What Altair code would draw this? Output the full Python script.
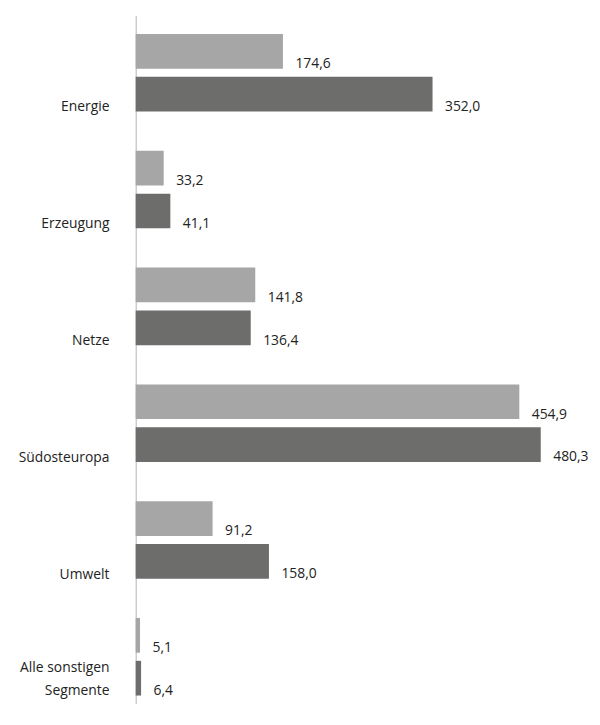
import altair as alt
import pandas as pd

categories = ["Energie", "Erzeugung", "Netze", "Südosteuropa", "Umwelt", "Alle sonstigen\nSegmente"]
series_names = ["Vorjahr", "Berichtsjahr"]
values_light = [174.6, 33.2, 141.8, 454.9, 91.2, 5.1]
values_dark = [352.0, 41.1, 136.4, 480.3, 158.0, 6.4]
colors = ["#a6a6a6", "#6d6d6b"]

rows = []
for c, a, b in zip(categories, values_light, values_dark):
    for s, v in zip(series_names, (a, b)):
        rows.append({"category": c, "series": s, "value": v,
                     "label": f"{v:.1f}".replace(".", ",")})
df = pd.DataFrame(rows)

base = alt.Chart(df).encode(
    y=alt.Y(
        "category:N",
        sort=categories,
        scale=alt.Scale(paddingInner=0.336, paddingOuter=0.113, align=0.70),
        axis=alt.Axis(
            title=None, ticks=False, domainColor="#b3b3b3", domainWidth=1,
            labelPadding=27, labelFontSize=14, labelFont="Open Sans",
            labelColor="#222222", labelBaseline="alphabetic",
            labelOffset={"condition": {"test": "indexof(datum.value, '\\n') >= 0", "value": 15}, "value": 39},
            labelLineHeight=24,
            labelExpr="split(datum.label, '\\n')", labelLimit=0,
        ),
    ),
    yOffset=alt.YOffset("series:N", sort=series_names,
                        scale=alt.Scale(paddingInner=0.19, paddingOuter=0)),
)

bars = base.mark_bar().encode(
    x=alt.X("value:Q", scale=alt.Scale(domain=[0, 500], nice=False), axis=None),
    color=alt.Color("series:N", scale=alt.Scale(domain=series_names, range=colors), legend=None),
)

text = base.mark_text(
    align="left", baseline="alphabetic", dx=12.6, dy=17,
    fontSize=14, font="Open Sans", color="#222222",
).encode(
    x=alt.X("value:Q"),
    text="label:N",
)

chart = (
    alt.layer(bars, text)
    .properties(
        width=426, height=695,
        padding={"left": 129, "top": 4, "right": 35, "bottom": 0},
        autosize=alt.AutoSizeParams(type="none"),
    )
    .configure_view(stroke=None)
)

chart.save("out.html", embed_options={"renderer": "svg", "actions": False})
